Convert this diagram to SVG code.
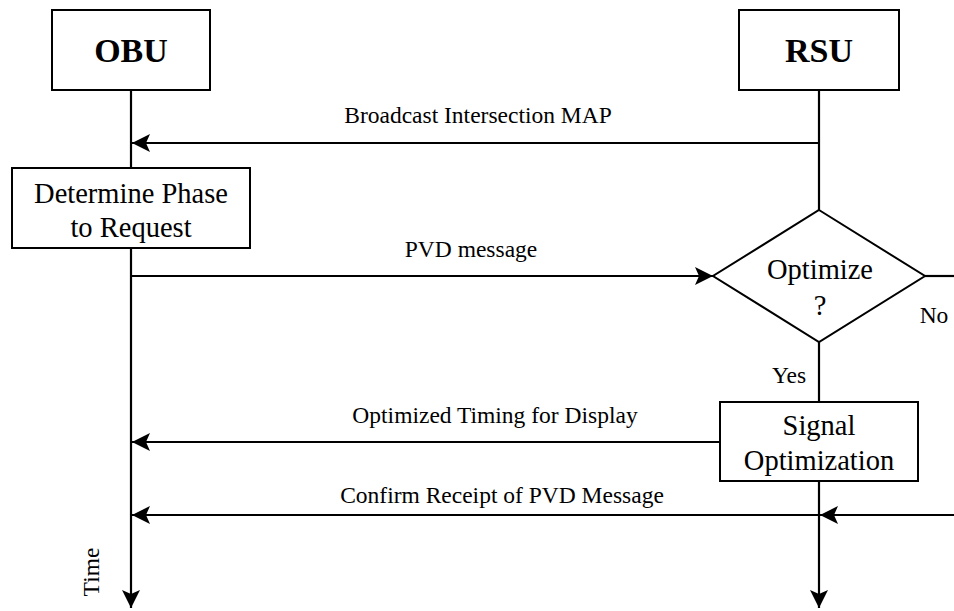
<svg xmlns="http://www.w3.org/2000/svg" width="954" height="611" viewBox="0 0 954 611">
  <style>
    .box { fill: #fff; stroke: #000; stroke-width: 2; }
    .line { fill: none; stroke: #000; stroke-width: 2.2; }
    .t { font-family: "Liberation Serif", "Times New Roman", serif; fill: #000; }
    .title { font-size: 34px; font-weight: bold; text-anchor: middle; }
    .node { font-size: 28.5px; text-anchor: middle; }
    .lbl { font-size: 23.5px; text-anchor: middle; }
  </style>
  <defs>
    <marker id="ah" viewBox="0 0 18 18" refX="18" refY="9" markerWidth="18" markerHeight="18" markerUnits="userSpaceOnUse" orient="auto">
      <path d="M0,0 L18,9 L0,18 L4,9 Z" fill="#000"/>
    </marker>
  </defs>
  <rect width="954" height="611" fill="#fff"/>

  <g id="connectors">
    <!-- lifelines -->
    <path class="line" d="M131,90 V168"/>
    <path class="line" d="M131,248 V608" marker-end="url(#ah)"/>
    <path class="line" d="M819,90 V210"/>
    <path class="line" d="M819,342 V402"/>
    <path class="line" d="M819,481 V608" marker-end="url(#ah)"/>
    <!-- messages -->
    <path class="line" d="M819,143 H132" marker-end="url(#ah)"/>
    <path class="line" d="M131,276 H713" marker-end="url(#ah)"/>
    <path class="line" d="M925,276 H954"/>
    <path class="line" d="M720,442 H132" marker-end="url(#ah)"/>
    <path class="line" d="M954,515 H820" marker-end="url(#ah)"/>
    <path class="line" d="M820,515 H132" marker-end="url(#ah)"/>
  </g>

  <g id="obu">
    <rect class="box" x="52" y="10" width="158" height="80"/>
    <text class="t title" x="131" y="62">OBU</text>
  </g>
  <g id="rsu">
    <rect class="box" x="739" y="10" width="160" height="80"/>
    <text class="t title" x="819" y="62">RSU</text>
  </g>
  <g id="determine-phase">
    <rect class="box" x="12" y="168" width="238" height="80"/>
    <text class="t node" x="131" y="203">Determine Phase</text>
    <text class="t node" x="131" y="237">to Request</text>
  </g>
  <g id="optimize-decision">
    <polygon class="box" points="819,210 925,276 819,342 713,276"/>
    <text class="t node" x="820" y="279">Optimize</text>
    <text class="t node" x="820" y="315">?</text>
  </g>
  <g id="signal-optimization">
    <rect class="box" x="720" y="402" width="198" height="79"/>
    <text class="t node" x="819" y="435">Signal</text>
    <text class="t node" x="819" y="470">Optimization</text>
  </g>

  <g id="labels">
    <text class="t lbl" x="478" y="123">Broadcast Intersection MAP</text>
    <text class="t lbl" x="471" y="257">PVD message</text>
    <text class="t lbl" x="495" y="423">Optimized Timing for Display</text>
    <text class="t lbl" x="502" y="503">Confirm Receipt of PVD Message</text>
    <text class="t lbl" x="934" y="323">No</text>
    <text class="t lbl" x="789" y="383">Yes</text>
    <text class="t lbl" transform="translate(99,572) rotate(-90)" x="0" y="0">Time</text>
  </g>
</svg>
